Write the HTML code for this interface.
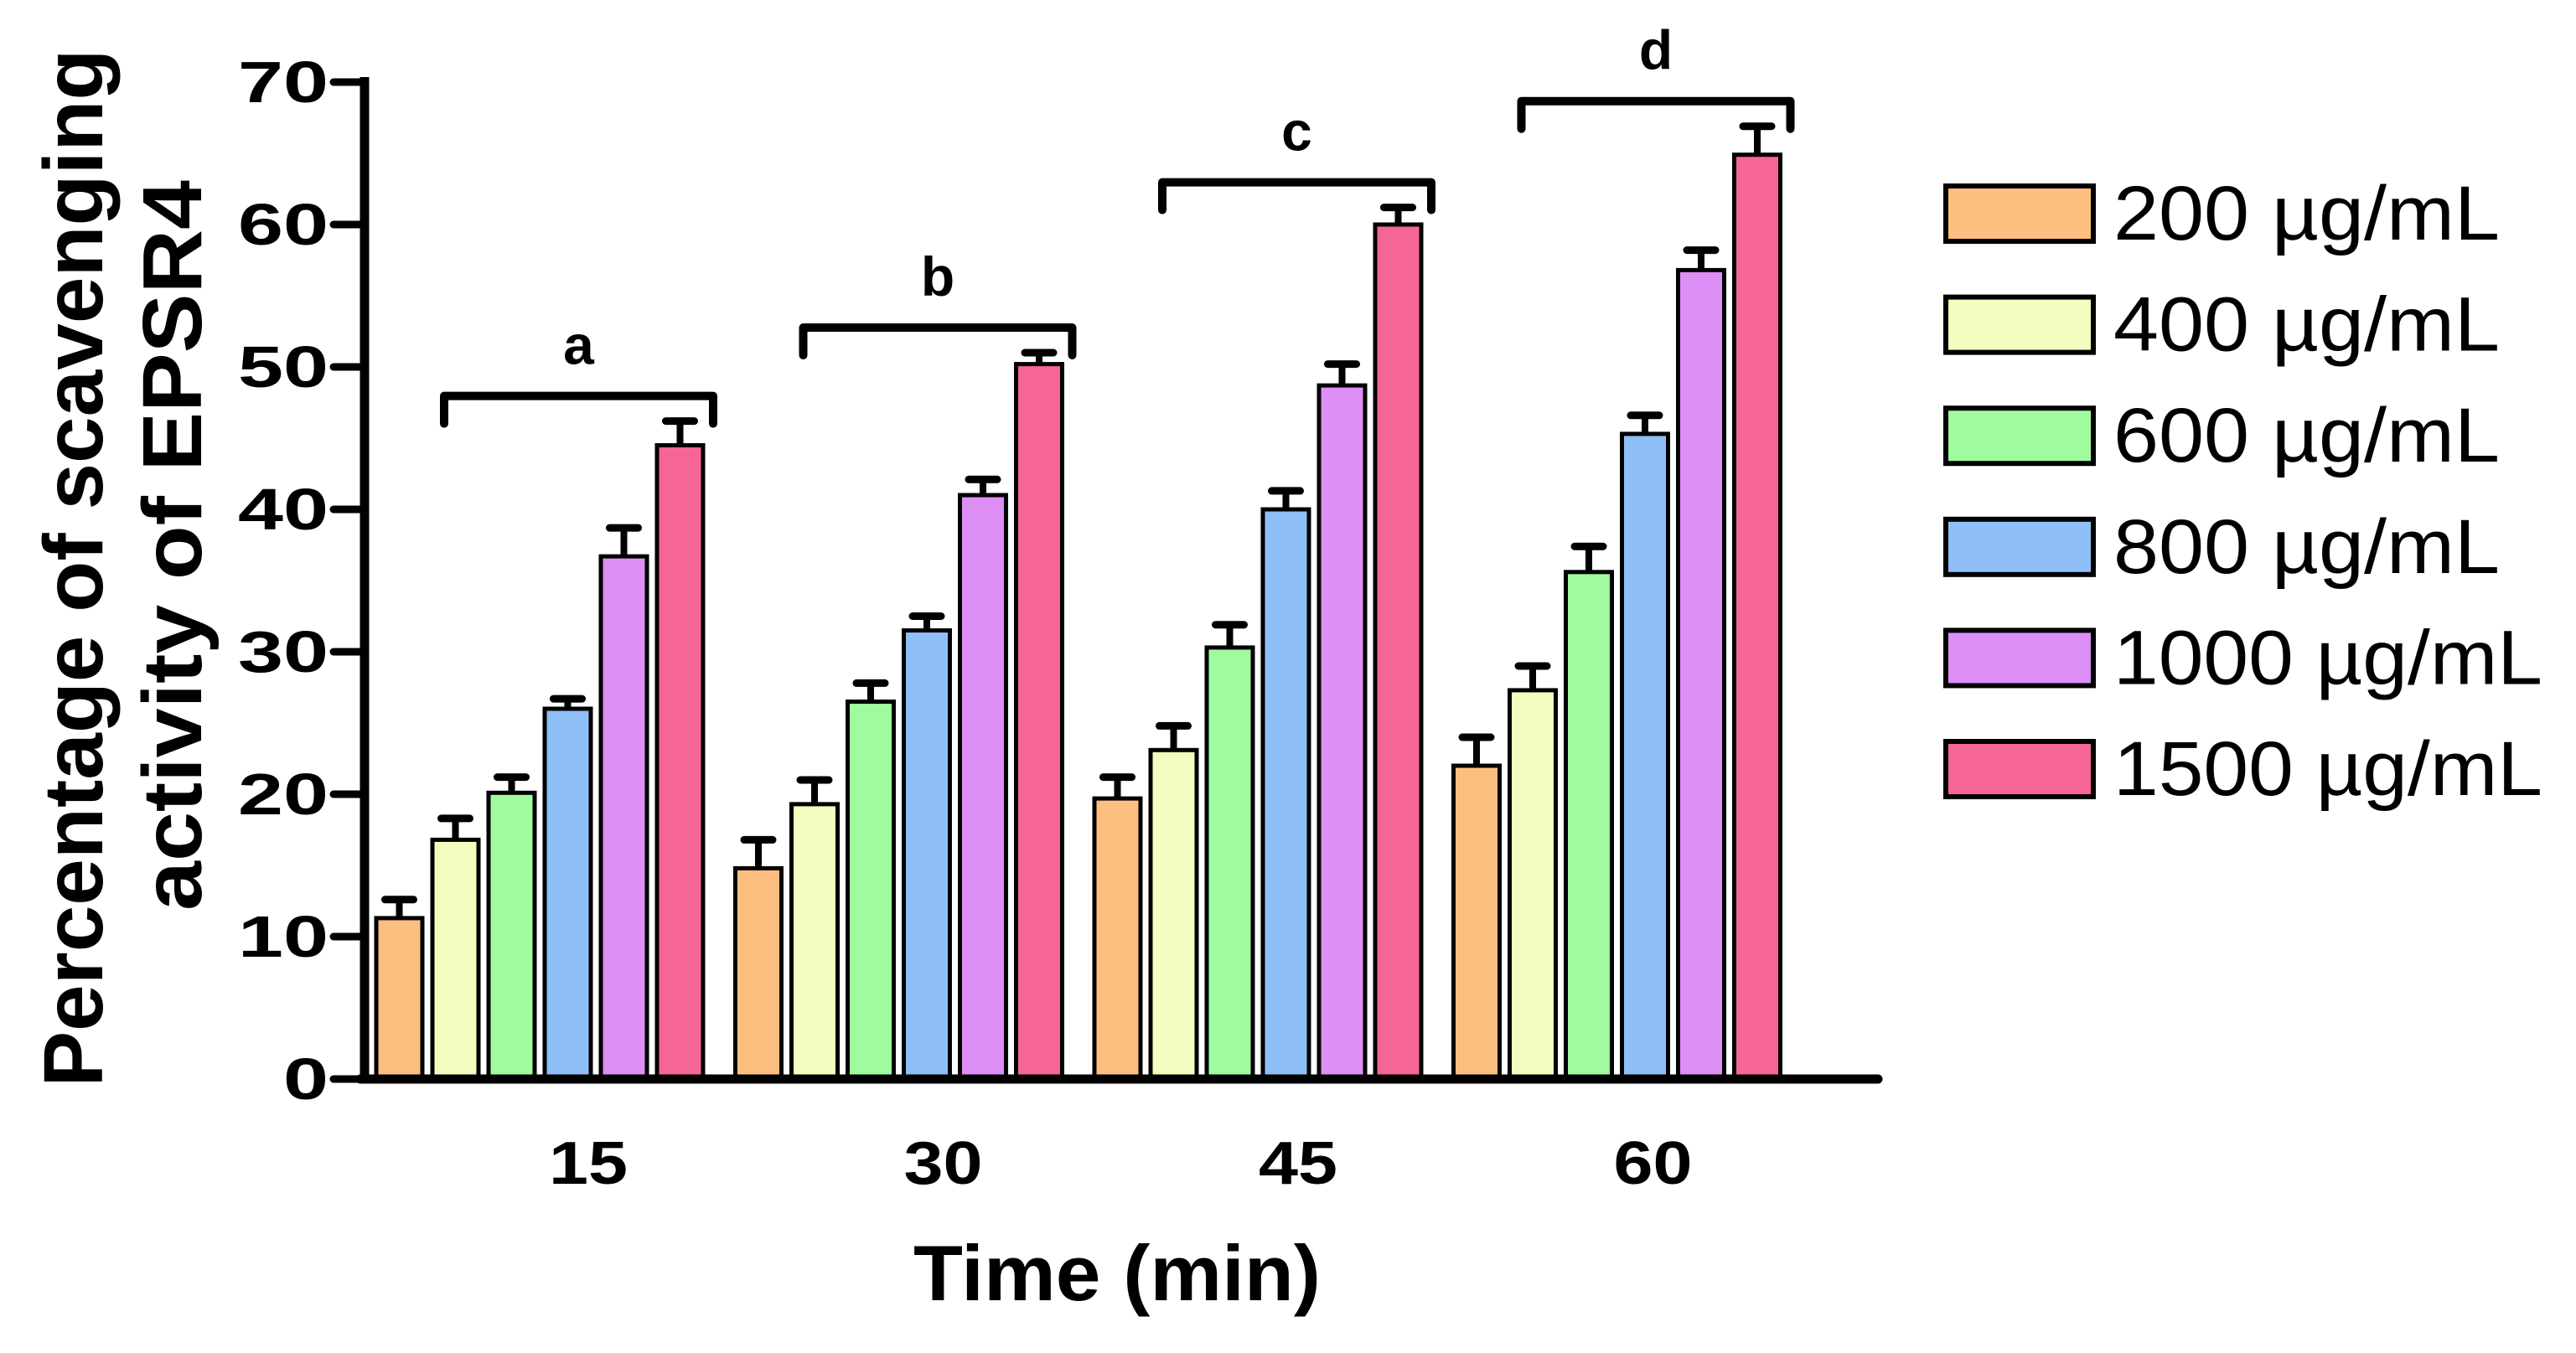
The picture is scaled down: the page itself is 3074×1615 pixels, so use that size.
<!DOCTYPE html>
<html><head><meta charset="utf-8"><style>
html,body{margin:0;padding:0;background:#fff;}
svg{display:block;}
text{font-family:"Liberation Sans",Arial,sans-serif;}
</style></head><body>
<svg id="chart" width="3074" height="1615" viewBox="0 0 3074 1615" xmlns="http://www.w3.org/2000/svg">
<g id="yt">
<text x="88" y="678" transform="rotate(-90 88 678)" text-anchor="middle" dominant-baseline="central" font-size="100" font-weight="bold" textLength="1239" lengthAdjust="spacingAndGlyphs">Percentage of scavenging</text>
<text x="206" y="651" transform="rotate(-90 206 651)" text-anchor="middle" dominant-baseline="central" font-size="100" font-weight="bold" textLength="872" lengthAdjust="spacingAndGlyphs">activity of EPSR4</text>
</g>
<text x="1333" y="1552" text-anchor="middle" font-size="94" font-weight="bold" textLength="486" lengthAdjust="spacingAndGlyphs">Time (min)</text>
<g id="plot"></g>
</svg>
<script>
const categories = ["15","30","45","60"];
const seriesNames = ["200 µg/mL","400 µg/mL","600 µg/mL","800 µg/mL","1000 µg/mL","1500 µg/mL"];
const v200 = [11.3,14.8,19.7,22.0];
const v400 = [16.8,19.3,23.1,27.3];
const v600 = [20.1,26.5,30.3,35.6];
const v800 = [26.0,31.5,40.0,45.3];
const v1000 = [36.7,41.0,48.7,56.8];
const v1500 = [44.5,50.2,60.0,64.9];
const e200 = [1.3,2.0,1.5,2.0];
const e400 = [1.5,1.7,1.7,1.7];
const e600 = [1.1,1.3,1.6,1.8];
const e800 = [0.7,1.0,1.3,1.3];
const e1000 = [2.0,1.1,1.5,1.4];
const e1500 = [1.7,0.8,1.2,2.0];
const groupLetters = ["a","b","c","d"];
const yTicks = [0,10,20,30,40,50,60,70];
const colors = ["#FDBF7F","#F2FDBF","#A0FB9E","#8FBFF7","#DD8FF5","#F56595"];

const NS="http://www.w3.org/2000/svg";
const g=document.getElementById('plot');
const y0=1288, pxPer=17.0;
function yS(v){return y0-v*pxPer;}
function gX(i){return 449+i*428.5;}
function bX(i,s){return gX(i)+s*67;}
const BW=55;
function el(t,a){const e=document.createElementNS(NS,t);for(const k in a)e.setAttribute(k,a[k]);g.appendChild(e);return e;}
const vals=[v200,v400,v600,v800,v1000,v1500];
const errs=[e200,e400,e600,e800,e1000,e1500];

for(let i=0;i<categories.length;i++){
  for(let s=0;s<6;s++){
    const x=bX(i,s), top=yS(vals[s][i]), et=yS(vals[s][i]+errs[s][i]);
    const l=el('line',{x1:x+BW/2,x2:x+BW/2,y1:top,y2:et,stroke:'#000','stroke-width':8});
    
    
    const c=el('line',{x1:x+BW/2-17,x2:x+BW/2+17,y1:et,y2:et,stroke:'#000','stroke-width':9,'stroke-linecap':'round'});
    
    
    const r=el('rect',{x:x,y:top,width:BW,height:y0-top,fill:colors[s],stroke:'#000','stroke-width':5});
    
    
  }
  let mx=0;for(let s=0;s<6;s++)mx=Math.max(mx,vals[s][i]+errs[s][i]);
  const by=yS(mx)-30, bx1=bX(i,1)+14, bx2=bX(i,5)+BW+12;
  const p=el('path',{d:`M${bx1} ${by+33} V${by} H${bx2} V${by+33}`,fill:'none',stroke:'#000','stroke-width':10,'stroke-linejoin':'round','stroke-linecap':'round'});
  
  
  const t=el('text',{x:(bx1+bx2)/2,y:by-38,'text-anchor':'middle','font-size':66,'font-weight':'bold'});
  t.textContent=groupLetters[i];
  
  
  const xl=el('text',{x:702+i*423.5,y:1413,'text-anchor':'middle','font-size':72,'font-weight':'bold',textLength:94,lengthAdjust:'spacingAndGlyphs'});
  xl.textContent=categories[i];
  
  
}
const ya=el('line',{x1:435,x2:435,y1:92,y2:1293,stroke:'#000','stroke-width':11});


const xa=el('line',{x1:430,x2:2241,y1:1288,y2:1288,stroke:'#000','stroke-width':11,'stroke-linecap':'round'});


yTicks.forEach(v=>{
  const tk=el('line',{x1:398,x2:435,y1:yS(v),y2:yS(v),stroke:'#000','stroke-width':9,'stroke-linecap':'round'});
  
  
  const txt=String(v);
  const tl=el('text',{x:392,y:yS(v),'text-anchor':'end','dominant-baseline':'central','font-size':70,'font-weight':'bold',textLength:txt.length*54,lengthAdjust:'spacingAndGlyphs'});
  tl.textContent=txt;
  
  
});
seriesNames.forEach((n,s)=>{
  const cy=255+s*132.6;
  const r=el('rect',{x:2322,y:cy-33,width:176,height:66,fill:colors[s],stroke:'#000','stroke-width':6});
  
  
  const t=el('text',{x:2522,y:cy,'dominant-baseline':'central','font-size':92,textLength:n.length>9?512:461,lengthAdjust:'spacingAndGlyphs'});
  t.textContent=n;
  
  
});
</script>
</body></html>
